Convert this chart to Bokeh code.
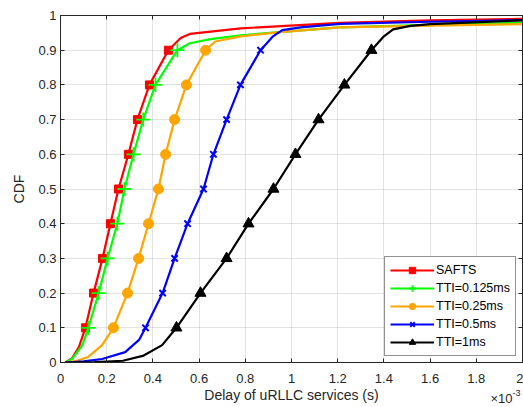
from bokeh.plotting import figure
from bokeh.models import Range1d, FixedTicker, LinearAxis, Label, Legend, LegendItem
from bokeh.embed import file_html
from bokeh.resources import INLINE

# CDF levels where markers are drawn
cdf_levels = [0.1, 0.2, 0.3, 0.4, 0.5, 0.6, 0.7, 0.8, 0.9]

# marker delays (x10^-3 s) at each CDF level
safts_mx = [0.108, 0.143, 0.182, 0.216, 0.251, 0.294, 0.333, 0.385, 0.467]
tti0125_mx = [0.121, 0.165, 0.204, 0.246, 0.277, 0.316, 0.358, 0.411, 0.506]
tti025_mx = [0.229, 0.290, 0.338, 0.381, 0.424, 0.455, 0.494, 0.545, 0.628]
tti05_mx = [0.368, 0.442, 0.494, 0.550, 0.619, 0.662, 0.719, 0.779, 0.866]
tti1_mx = [0.502, 0.606, 0.719, 0.814, 0.922, 1.017, 1.117, 1.229, 1.346]

# extra curve points below the 0.1 level and above the 0.9 level
safts_head_x = [0.02, 0.05, 0.08]
safts_head_y = [0.0, 0.012, 0.045]
safts_tail_x = [0.52, 0.56, 0.78, 1.21, 1.6, 2.0]
safts_tail_y = [0.935, 0.947, 0.963, 0.979, 0.986, 0.99]

tti0125_head_x = [0.02, 0.05, 0.095]
tti0125_head_y = [0.0, 0.01, 0.05]
tti0125_tail_x = [0.56, 0.65, 0.78, 1.21, 1.6, 2.0]
tti0125_tail_y = [0.92, 0.932, 0.943, 0.966, 0.973, 0.979]

tti025_head_x = [0.02, 0.07, 0.12, 0.18]
tti025_head_y = [0.0, 0.005, 0.016, 0.05]
tti025_tail_x = [0.67, 0.78, 0.95, 1.21, 1.6, 2.0]
tti025_tail_y = [0.925, 0.94, 0.952, 0.966, 0.971, 0.975]

tti05_head_x = [0.02, 0.10, 0.18, 0.28, 0.34]
tti05_head_y = [0.0, 0.003, 0.01, 0.03, 0.065]
tti05_tail_x = [0.92, 0.96, 1.04, 1.21, 1.6, 2.0]
tti05_tail_y = [0.94, 0.958, 0.966, 0.976, 0.982, 0.987]

tti1_head_x = [0.02, 0.15, 0.27, 0.36, 0.44]
tti1_head_y = [0.0, 0.001, 0.005, 0.02, 0.05]
tti1_tail_x = [1.40, 1.44, 1.515, 1.6, 2.0]
tti1_tail_y = [0.94, 0.96, 0.97, 0.975, 0.986]

x_ticks = [0, 0.2, 0.4, 0.6, 0.8, 1.0, 1.2, 1.4, 1.6, 1.8, 2.0]
x_tick_labels = ["0", "0.2", "0.4", "0.6", "0.8", "1", "1.2", "1.4", "1.6", "1.8", "2"]
y_ticks = [0, 0.1, 0.2, 0.3, 0.4, 0.5, 0.6, 0.7, 0.8, 0.9, 1.0]
y_tick_labels = ["0", "0.1", "0.2", "0.3", "0.4", "0.5", "0.6", "0.7", "0.8", "0.9", "1"]

FONT = "Liberation Sans"
AX = "#262626"

p = figure(width=523, height=407, x_range=Range1d(0, 2), y_range=Range1d(0, 1),
           output_backend="svg", toolbar_location=None,
           min_border_left=59, min_border_right=1, min_border_top=14, min_border_bottom=45)
p.background_fill_color = "white"
p.outline_line_color = AX
p.outline_line_width = 1

for ax in (p.xaxis[0], p.yaxis[0]):
    ax.major_label_text_font = FONT
    ax.major_label_text_font_size = "13px"
    ax.major_label_text_color = AX
    ax.axis_label_text_font = FONT
    ax.axis_label_text_font_size = "14px"
    ax.axis_label_text_font_style = "normal"
    ax.axis_label_text_color = AX
    ax.axis_line_color = AX
    ax.major_tick_line_color = AX
    ax.major_tick_in = 4
    ax.major_tick_out = 0
    ax.minor_tick_line_color = None

p.xaxis[0].ticker = FixedTicker(ticks=x_ticks)
p.xaxis[0].major_label_overrides = dict(zip(x_ticks, x_tick_labels))
p.yaxis[0].ticker = FixedTicker(ticks=y_ticks)
p.yaxis[0].major_label_overrides = dict(zip(y_ticks, y_tick_labels))
p.xaxis[0].axis_label = "Delay of uRLLC services (s)"
p.yaxis[0].axis_label = "CDF"
p.xaxis[0].major_label_standoff = 11
p.xaxis[0].axis_label_standoff = 1
p.yaxis[0].major_label_standoff = 4
p.yaxis[0].axis_label_standoff = 8

top_ax = LinearAxis(ticker=FixedTicker(ticks=x_ticks),
                    major_label_overrides={t: "" for t in x_ticks},
                    major_label_standoff=0, major_tick_in=4, major_tick_out=0,
                    minor_tick_line_color=None, axis_line_color=AX, major_tick_line_color=AX)
right_ax = LinearAxis(ticker=FixedTicker(ticks=y_ticks),
                      major_label_overrides={t: "" for t in y_ticks},
                      major_label_standoff=0, major_tick_in=4, major_tick_out=0,
                      minor_tick_line_color=None, axis_line_color=AX, major_tick_line_color=AX)
p.add_layout(top_ax, "above")
p.add_layout(right_ax, "right")

p.grid.grid_line_color = AX
p.grid.grid_line_alpha = 0.13
p.xgrid.ticker = FixedTicker(ticks=x_ticks)
p.ygrid.ticker = FixedTicker(ticks=y_ticks)

series = [
    ("SAFTS", "#ff0000", safts_head_x, safts_head_y, safts_mx, safts_tail_x, safts_tail_y,
     dict(marker="square", size=8, fill_color="#ff0000", line_color="#ff0000")),
    ("TTI=0.125ms", "#00ff00", tti0125_head_x, tti0125_head_y, tti0125_mx, tti0125_tail_x, tti0125_tail_y,
     dict(marker="cross", size=14, fill_color=None, line_color="#00ff00", line_width=1.8)),
    ("TTI=0.25ms", "#ffa500", tti025_head_x, tti025_head_y, tti025_mx, tti025_tail_x, tti025_tail_y,
     dict(marker="circle", size=10, fill_color="#ffa500", line_color="#ffa500")),
    ("TTI=0.5ms", "#0000ff", tti05_head_x, tti05_head_y, tti05_mx, tti05_tail_x, tti05_tail_y,
     dict(marker="x", size=9, fill_color=None, line_color="#0000ff", line_width=2)),
    ("TTI=1ms", "#000000", tti1_head_x, tti1_head_y, tti1_mx, tti1_tail_x, tti1_tail_y,
     dict(marker="triangle", size=11, fill_color="#000000", line_color="#000000")),
]

items = []
for name, color, hx, hy, mx, tx, ty, mk in series:
    xs = list(hx) + list(mx) + list(tx)
    ys = list(hy) + list(cdf_levels) + list(ty)
    lr = p.line(xs, ys, line_color=color, line_width=2.2)
    sr = p.scatter(mx, cdf_levels, **mk)
    items.append(LegendItem(label=name, renderers=[lr, sr]))

legend = Legend(items=items, location="bottom_right")
legend.label_text_font = FONT
legend.label_text_font_size = "12.5px"
legend.label_text_color = "#000000"
legend.border_line_color = AX
legend.border_line_width = 1
legend.background_fill_color = "white"
legend.background_fill_alpha = 1
legend.glyph_width = 44
legend.glyph_height = 16
legend.label_height = 16
legend.label_standoff = 2
legend.spacing = 2
legend.padding = 5
legend.margin = 6
p.add_layout(legend, "center")

# exponent note below the x axis (placed in side panels so it is not clipped to the frame)
p.add_layout(Label(x=1.957, y=-0.103, text="×10", text_font=FONT, text_font_size="13px",
                   text_color=AX, text_align="right", text_baseline="middle"), "above")
p.add_layout(Label(x=1.957, y=-0.087, text="-3", text_font=FONT, text_font_size="9px",
                   text_color=AX, text_align="left", text_baseline="middle"), "left")

open("out.html", "w").write(file_html(p, INLINE))
